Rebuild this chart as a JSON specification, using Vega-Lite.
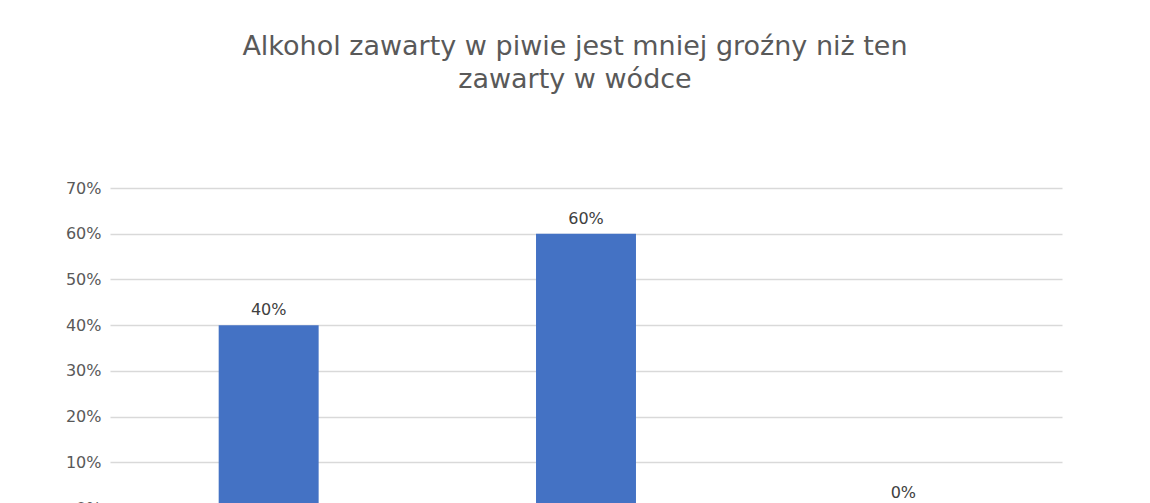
{
  "$schema": "https://vega.github.io/schema/vega-lite/v6.json",
  "autosize": {"type": "none"},
  "padding": {"left": 110, "top": 188, "right": 88, "bottom": 0},
  "width": 952,
  "height": 320,
  "background": "white",
  "title": {
    "text": ["Alkohol zawarty w piwie jest mniej groźny niż ten", "zawarty w wódce"],
    "anchor": "middle",
    "frame": "group",
    "dx": -11,
    "offset": 86,
    "font": "DejaVu Sans",
    "fontSize": 27,
    "fontWeight": "normal",
    "color": "#595959",
    "lineHeight": 33
  },
  "data": {
    "values": [
      {"odpowiedz": "Tak", "wartosc": 0.4},
      {"odpowiedz": "Nie", "wartosc": 0.6},
      {"odpowiedz": "Nie wiem", "wartosc": 0.0}
    ]
  },
  "encoding": {
    "x": {
      "field": "odpowiedz",
      "type": "nominal",
      "sort": null,
      "scale": {"paddingInner": 0, "paddingOuter": 0},
      "axis": null
    },
    "y": {
      "field": "wartosc",
      "type": "quantitative",
      "scale": {"domain": [0, 0.7], "nice": false},
      "axis": {
        "format": ".0%",
        "values": [0, 0.1, 0.2, 0.3, 0.4, 0.5, 0.6, 0.7],
        "labelOverlap": false,
        "labelFlush": false,
        "domain": false,
        "ticks": false,
        "title": null,
        "labelFont": "DejaVu Sans",
        "labelFontSize": 16,
        "labelColor": "#595959",
        "labelPadding": 9,
        "gridColor": "#d9d9d9",
        "gridWidth": 1.3
      }
    }
  },
  "layer": [
    {
      "mark": {"type": "bar", "color": "#4472c4", "width": {"band": 0.315}}
    },
    {
      "mark": {
        "type": "text",
        "dy": -15,
        "font": "DejaVu Sans",
        "fontSize": 16,
        "color": "#404040"
      },
      "encoding": {
        "text": {"field": "wartosc", "type": "quantitative", "format": ".0%"}
      }
    }
  ],
  "config": {"view": {"stroke": null}}
}
